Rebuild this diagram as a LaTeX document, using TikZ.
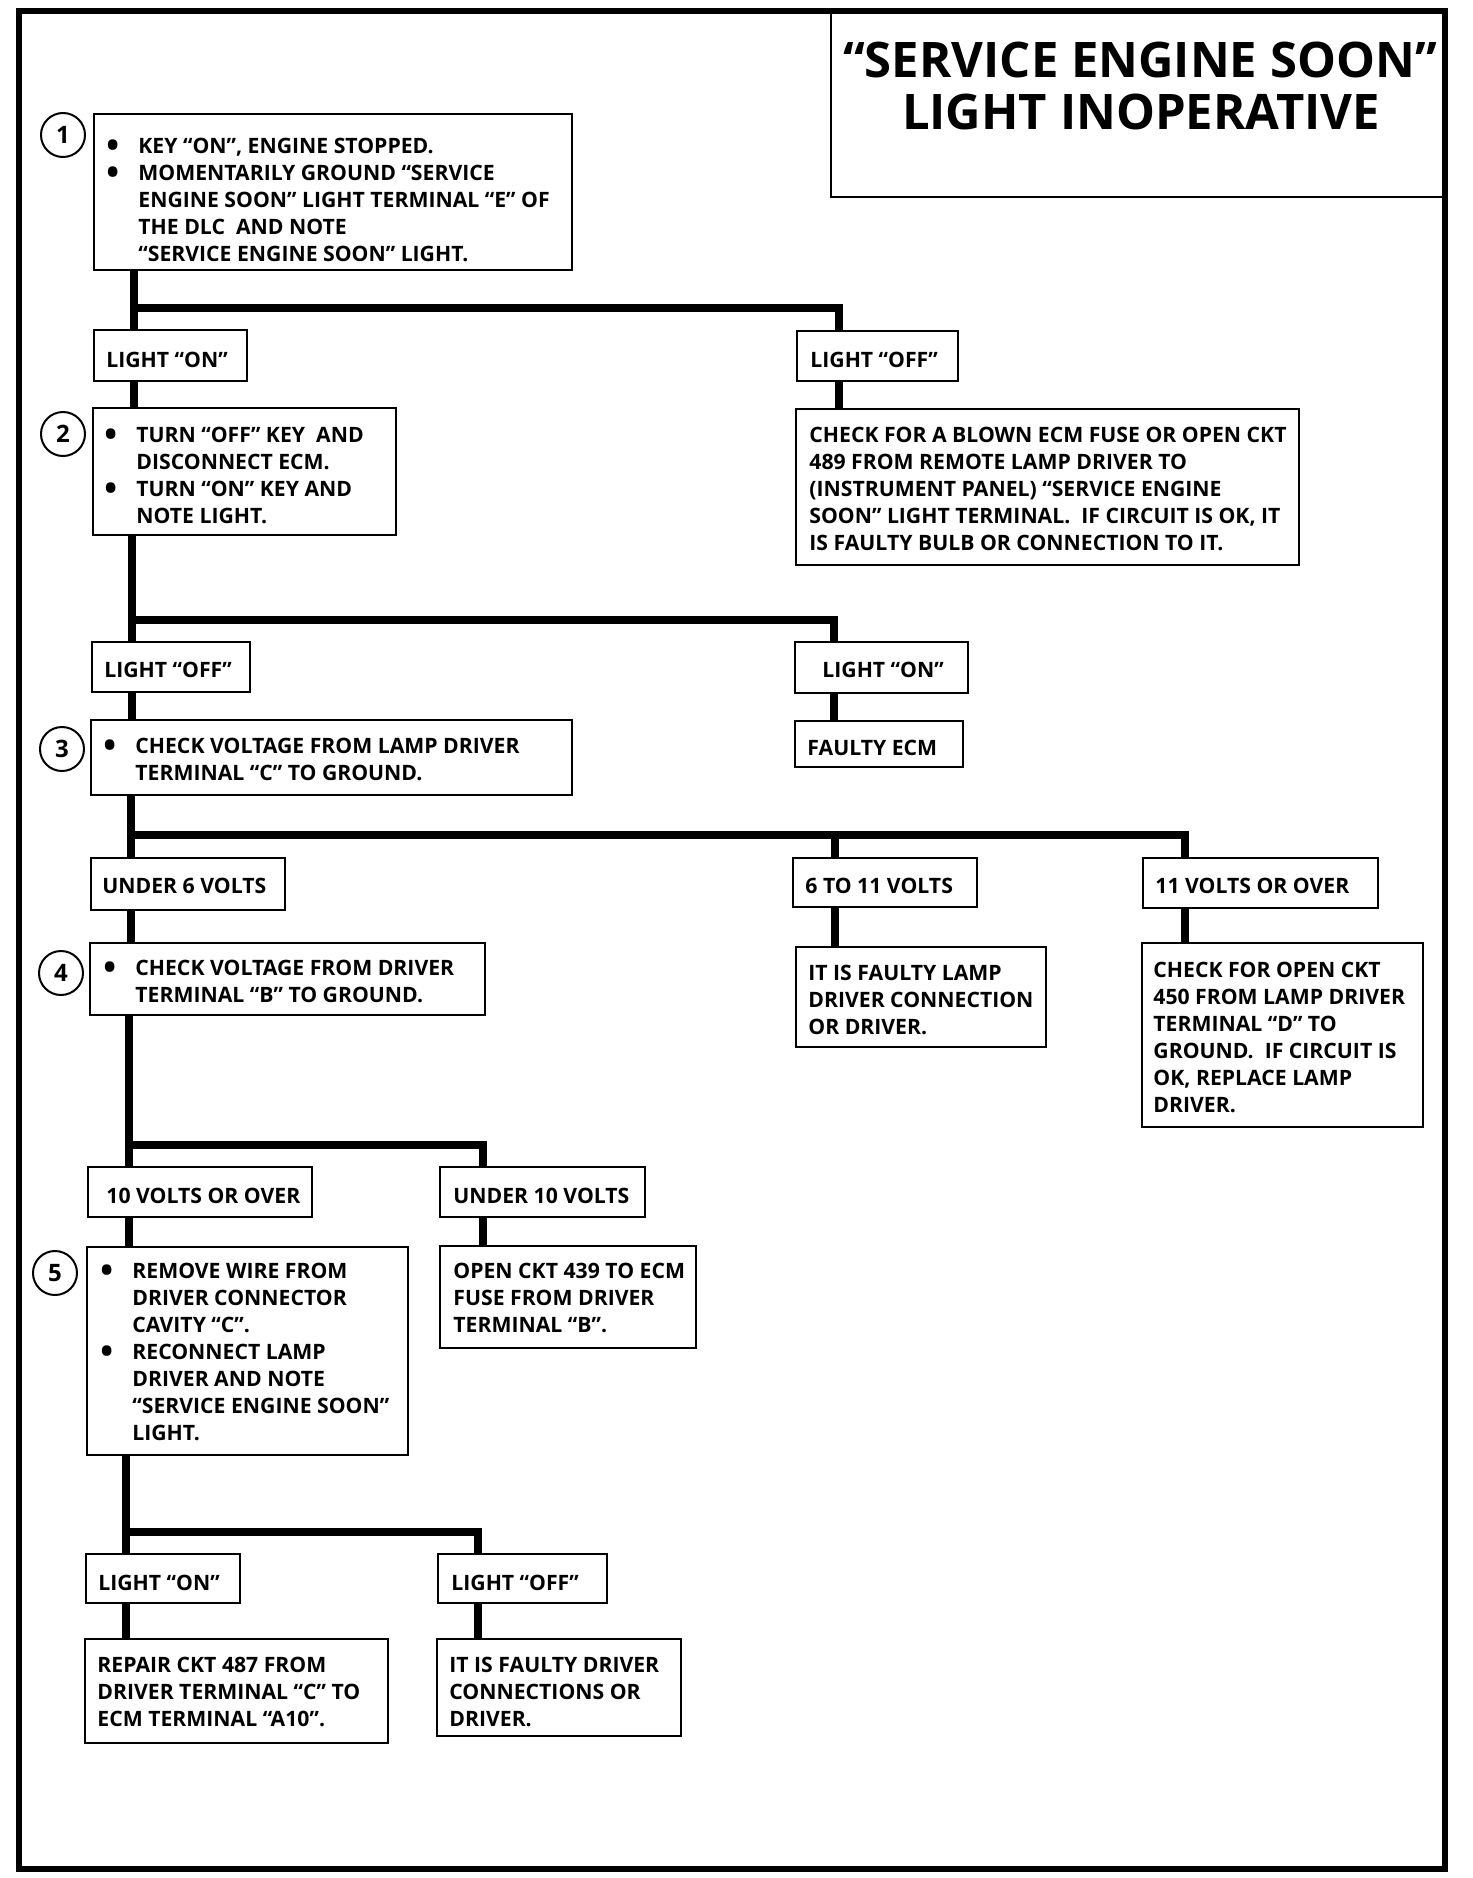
\documentclass[tikz,border=0pt]{standalone}
\usepackage{fontspec}
\setmainfont{Open Sans}
\usetikzlibrary{fit}
\newcommand\bul{\makebox[16pt][l]{\raisebox{-2.1pt}{\fontsize{17}{13.5}\selectfont •}}}
\newcommand\ind{\hspace*{16pt}}
\tikzset{
  boxst/.style={draw, line width=1.4pt, inner sep=0pt},
  txt/.style={inner sep=0pt, align=left, font=\fontsize{10.6}{13.5}\selectfont\bfseries},
  num/.style={draw, circle, line width=1pt, minimum size=22pt, inner sep=0pt, font=\fontsize{12}{12}\selectfont\bfseries},
  ttl/.style={inner sep=0pt, font=\fontsize{24.5}{30}\selectfont\bfseries},
  conn/.style={line width=4pt},
  frame/.style={line width=2.8pt},
}
\newcommand\bx[5]{\node[boxst, fit={(#2,#3) (#4,#5)}] (#1) {};}
\newcommand\tx[4]{\node[txt, anchor=north west] (#1) at (#2,#3-19) {\strut #4};}
\begin{document}
\begin{tikzpicture}[x=0.5pt, y=-0.5pt]
\useasboundingbox (0,0) rectangle (1472,1878);
\fill[white] (0,0) rectangle (1472,1878);
% title box
\bx{tbox}{831}{11}{1445}{197}
\node[ttl, anchor=base] (ttl1) at (1140,78) {“SERVICE ENGINE SOON”};
\node[ttl, anchor=base] (ttl2) at (1141,130) {LIGHT INOPERATIVE};
% outer frame
\draw[frame] (19,11) rectangle (1445,1869);

% step 1
\bx{b1}{94}{114}{572}{270}
\node[num] (c1) at (63,135) {1};
\tx{t1}{106}{153}{\bul KEY “ON”, ENGINE STOPPED.\\
\bul MOMENTARILY GROUND “SERVICE\\
\ind ENGINE SOON” LIGHT TERMINAL “E” OF\\
\ind THE DLC\ \ AND NOTE\\
\ind “SERVICE ENGINE SOON” LIGHT.}

\bx{on1}{94}{330}{247}{381}
\tx{ton1}{106}{367}{LIGHT “ON”}
\bx{off1}{797}{331}{958}{381}
\tx{toff1}{810}{367}{LIGHT “OFF”}

% step 2
\bx{b2}{93}{408}{396}{535}
\node[num] (c2) at (63,434) {2};
\tx{t2}{104}{442}{\bul TURN “OFF” KEY\ \ AND\\
\ind DISCONNECT ECM.\\
\bul TURN “ON” KEY AND\\
\ind NOTE LIGHT.}

\bx{b2r}{796}{409}{1299}{565}
\tx{t2r}{809}{442}{CHECK FOR A BLOWN ECM FUSE OR OPEN CKT\\
489 FROM REMOTE LAMP DRIVER TO\\
(INSTRUMENT PANEL) “SERVICE ENGINE\\
SOON” LIGHT TERMINAL.\ \ IF CIRCUIT IS OK, IT\\
IS FAULTY BULB OR CONNECTION TO IT.}

\bx{off2}{92}{642}{250}{692}
\tx{toff2}{104}{677}{LIGHT “OFF”}
\bx{on2}{795}{642}{968}{693}
\tx{ton2}{822}{677}{LIGHT “ON”}

% step 3
\bx{b3}{91}{720}{572}{795}
\node[num] (c3) at (62,749) {3};
\tx{t3}{103}{753}{\bul CHECK VOLTAGE FROM LAMP DRIVER\\
\ind TERMINAL “C” TO GROUND.}
\bx{ecm}{795}{721}{963}{767}
\tx{tecm}{807}{755}{FAULTY ECM}

\bx{u6}{91}{858}{285}{910}
\tx{tu6}{102}{893}{UNDER 6 VOLTS}
\bx{v611}{793}{858}{977}{907}
\tx{tv611}{805}{893}{6 TO 11 VOLTS}
\bx{v11}{1143}{858}{1378}{908}
\tx{tv11}{1155}{893}{11 VOLTS OR OVER}

% step 4
\bx{b4}{90}{943}{485}{1015}
\node[num] (c4) at (61,973) {4};
\tx{t4}{103}{975}{\bul CHECK VOLTAGE FROM DRIVER\\
\ind TERMINAL “B” TO GROUND.}
\bx{r611}{796}{947}{1046}{1047}
\tx{tr611}{808}{980}{IT IS FAULTY LAMP\\
DRIVER CONNECTION\\
OR DRIVER.}
\bx{r11}{1142}{943}{1423}{1127}
\tx{tr11}{1153}{977}{CHECK FOR OPEN CKT\\
450 FROM LAMP DRIVER\\
TERMINAL “D” TO\\
GROUND.\ \ IF CIRCUIT IS\\
OK, REPLACE LAMP\\
DRIVER.}

\bx{v10}{88}{1167}{312}{1217}
\tx{tv10}{106}{1203}{10 VOLTS OR OVER}
\bx{u10}{440}{1167}{645}{1217}
\tx{tu10}{453}{1203}{UNDER 10 VOLTS}

% step 5
\bx{b5}{87}{1247}{408}{1455}
\node[num] (c5) at (55,1273) {5};
\tx{t5}{100}{1278}{\bul REMOVE WIRE FROM\\
\ind DRIVER CONNECTOR\\
\ind CAVITY “C”.\\
\bul RECONNECT LAMP\\
\ind DRIVER AND NOTE\\
\ind “SERVICE ENGINE SOON”\\
\ind LIGHT.}
\bx{r10}{440}{1246}{696}{1348}
\tx{tr10}{453}{1278}{OPEN CKT 439 TO ECM\\
FUSE FROM DRIVER\\
TERMINAL “B”.}

\bx{lon3}{86}{1554}{240}{1603}
\tx{tlon3}{98}{1590}{LIGHT “ON”}
\bx{loff3}{438}{1554}{607}{1603}
\tx{tloff3}{451}{1590}{LIGHT “OFF”}

\bx{rep}{85}{1639}{388}{1743}
\tx{trep}{97}{1672}{REPAIR CKT 487 FROM\\
DRIVER TERMINAL “C” TO\\
ECM TERMINAL “A10”.}
\bx{fdr}{437}{1639}{681}{1736}
\tx{tfdr}{449}{1672}{IT IS FAULTY DRIVER\\
CONNECTIONS OR\\
DRIVER.}

% junctions
\coordinate (j1) at (134,308); \coordinate (jr1) at (839,308);
\coordinate (j2) at (132,620); \coordinate (jr2) at (834,620);
\coordinate (j3) at (131,835); \coordinate (jm3) at (835,835); \coordinate (jr3) at (1185,835);
\coordinate (j4) at (129,1145); \coordinate (jr4) at (483,1145);
\coordinate (j5) at (126,1532); \coordinate (jr5) at (478,1532);

% connectors
\draw[conn] (b1.south -| j1) -- (on1.north -| j1);
\draw[conn] (j1) -- (jr1) -- (off1.north -| jr1);
\draw[conn] (on1.south -| j1) -- (b2.north -| j1);
\draw[conn] (off1.south -| jr1) -- (b2r.north -| jr1);

\draw[conn] (b2.south -| j2) -- (off2.north -| j2);
\draw[conn] (j2) -- (jr2) -- (on2.north -| jr2);
\draw[conn] (off2.south -| j2) -- (b3.north -| j2);
\draw[conn] (on2.south -| jr2) -- (ecm.north -| jr2);

\draw[conn] (b3.south -| j3) -- (u6.north -| j3);
\draw[conn] (j3) -- (jr3) -- (v11.north -| jr3);
\draw[conn] (jm3) -- (v611.north -| jm3);
\draw[conn] (u6.south -| j3) -- (b4.north -| j3);
\draw[conn] (v611.south -| jm3) -- (r611.north -| jm3);
\draw[conn] (v11.south -| jr3) -- (r11.north -| jr3);

\draw[conn] (b4.south -| j4) -- (v10.north -| j4);
\draw[conn] (j4) -- (jr4) -- (u10.north -| jr4);
\draw[conn] (v10.south -| j4) -- (b5.north -| j4);
\draw[conn] (u10.south -| jr4) -- (r10.north -| jr4);

\draw[conn] (b5.south -| j5) -- (lon3.north -| j5);
\draw[conn] (j5) -- (jr5) -- (loff3.north -| jr5);
\draw[conn] (lon3.south -| j5) -- (rep.north -| j5);
\draw[conn] (loff3.south -| jr5) -- (fdr.north -| jr5);
\end{tikzpicture}
\end{document}
